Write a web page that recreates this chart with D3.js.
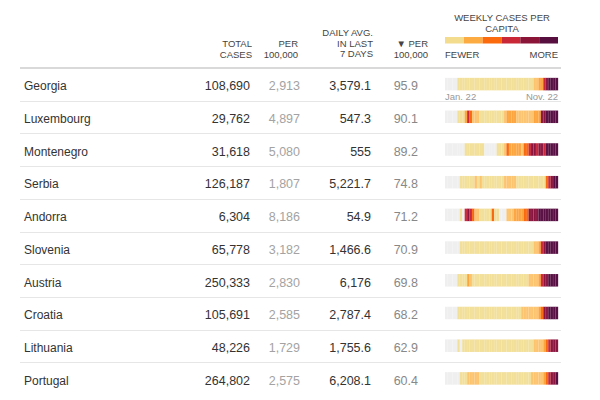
<!DOCTYPE html>
<html><head><meta charset="utf-8">
<script src="https://cdn.jsdelivr.net/npm/d3@7"></script>
<style>
body{margin:0;background:#fff;}
svg{display:block;}
.nm{font-family:"Liberation Sans",Arial,sans-serif;font-size:12px;fill:#333;}
.num{font-family:"Liberation Sans Narrow","Arial Narrow","Liberation Sans",sans-serif;font-size:12.5px;}
.hd{font-family:"Liberation Sans Narrow","Arial Narrow","Liberation Sans",sans-serif;font-size:9.5px;fill:#444;}
.dt{font-family:"Liberation Sans Narrow","Arial Narrow","Liberation Sans",sans-serif;font-size:9.5px;fill:#999;}
</style></head>
<body>
<script>
const countries = ["Georgia","Luxembourg","Montenegro","Serbia","Andorra","Slovenia","Austria","Croatia","Lithuania","Portugal"];
const totalCases = ["108,690","29,762","31,618","126,187","6,304","65,778","250,333","105,691","48,226","264,802"];
const totalPer100k = ["2,913","4,897","5,080","1,807","8,186","3,182","2,830","2,585","1,729","2,575"];
const dailyAvg = ["3,579.1","547.3","555","5,221.7","54.9","1,466.6","6,176","2,787.4","1,755.6","6,208.1"];
const dailyPer100k = ["95.9","90.1","89.2","74.8","71.2","70.9","69.8","68.2","62.9","60.4"];
const dateLabels = ["Jan. 22","Nov. 22"];
const legendLabels = ["FEWER","MORE"];
const legendLevels = [1,3,4,5,6,7];
// weekly level 0=no data/very low, 1..7 = fewer..more
const weeklyGeorgia    = [0,0,0,0,0,1,1,1,1,1,1,1,1,1,1,1,1,1,1,1,1,1,1,1,1,1,1,1,1,1,1,1,1,1,1,1,2,2,3,3,5,6,7,7,7,7];
const weeklyLuxembourg = [0,0,0,0,0,1,1,1,3,5,4,2,2,2,1,1,1,1,1,1,1,1,1,1,2,3,3,3,3,2,2,2,2,2,2,2,3,3,3,6,6,7,7,7,7,7];
const weeklyMontenegro = [0,0,0,0,0,0,0,0,1,1,1,1,1,1,1,1,0,0,0,0,0,1,1,1,2,4,3,3,3,3,3,2,4,4,5,6,6,5,6,6,5,7,7,7,7,7];
const weeklySerbia     = [0,0,0,0,0,0,1,1,1,1,1,1,2,1,2,1,1,1,1,1,1,1,1,1,2,2,2,2,2,1,1,1,1,1,1,1,1,1,1,1,1,4,5,6,7,7];
const weeklyAndorra    = [0,0,0,0,0,0,1,0,5,6,5,4,2,2,1,1,1,1,1,4,1,1,0,0,0,2,2,2,3,3,3,3,4,4,6,6,6,6,7,7,7,7,7,7,7,7];
const weeklySlovenia   = [0,0,0,0,0,0,1,1,1,1,1,1,1,1,1,1,1,1,1,1,1,1,1,1,1,1,1,1,1,1,1,1,1,1,1,1,2,2,3,5,6,7,7,7,7,7];
const weeklyAustria    = [0,0,0,0,0,1,1,1,1,3,2,1,1,1,1,1,1,1,1,1,1,1,1,1,1,1,1,1,1,1,1,1,1,1,2,2,2,2,3,5,6,6,7,7,7,7];
const weeklyCroatia    = [0,0,0,0,0,1,1,1,1,1,1,1,1,1,1,1,1,1,1,1,1,1,1,1,1,1,1,1,1,1,1,2,2,2,2,2,2,2,3,4,6,6,7,7,7,7];
const weeklyLithuania  = [0,0,0,0,0,1,0,1,1,1,1,1,1,1,1,1,1,1,1,1,1,1,1,1,1,1,1,1,1,1,1,1,1,1,1,1,2,2,2,2,3,4,5,6,6,6];
const weeklyPortugal   = [0,0,0,0,0,0,1,1,1,2,2,2,2,2,1,1,1,1,1,1,1,1,1,1,1,1,1,1,1,1,1,1,1,1,1,2,2,2,2,2,3,4,5,6,6,7];
const weekly = [weeklyGeorgia,weeklyLuxembourg,weeklyMontenegro,weeklySerbia,weeklyAndorra,weeklySlovenia,weeklyAustria,weeklyCroatia,weeklyLithuania,weeklyPortugal];

const levelColors = ["#efefef","#f2df98","#fcc46f","#fca53f","#f8680f","#c8283a","#8a1640","#580f43"];
const color = d3.scaleOrdinal().domain(d3.range(8)).range(levelColors);

const W=600,H=400;
const svg = d3.select("body").append("svg").attr("width",W).attr("height",H);

const y = d3.scaleBand().domain(countries).range([68,395]);
const x = d3.scaleBand().domain(d3.range(weeklyGeorgia.length)).range([445,558]);
const lx = d3.scaleBand().domain(legendLevels).range([445,558]);

// header
const hdr = [
  {x:252, lines:["TOTAL","CASES"], y0:47},
  {x:298, lines:["PER","100,000"], y0:47},
  {x:373, lines:["DAILY AVG.","IN LAST","7 DAYS"], y0:36},
  {x:428, lines:["\u25BC PER","100,000"], y0:47}
];
hdr.forEach(h=>{
  h.lines.forEach((t,i)=>{
    svg.append("text").attr("class","hd").attr("x",h.x).attr("y",h.y0+i*10.5)
      .attr("text-anchor","end").text(t);
  });
});
svg.append("text").attr("class","hd").attr("x",502).attr("y",21).attr("text-anchor","middle").text("WEEKLY CASES PER");
svg.append("text").attr("class","hd").attr("x",502).attr("y",32).attr("text-anchor","middle").text("CAPITA");
svg.selectAll("rect.leg").data(legendLevels).enter().append("rect").attr("class","leg")
  .attr("x",d=>lx(d)).attr("y",37).attr("width",lx.bandwidth()).attr("height",6.5)
  .attr("fill",(d,i)=>["#f3dc8e","#fbab41","#fb6a0d","#c92837","#8b1538","#560f3f"][i]);
svg.append("text").attr("class","hd").attr("x",445).attr("y",57.5).text(legendLabels[0]);
svg.append("text").attr("class","hd").attr("x",558).attr("y",57.5).attr("text-anchor","end").text(legendLabels[1]);

// lines
svg.append("line").attr("x1",20).attr("x2",561).attr("y1",68).attr("y2",68).attr("stroke","#ccc").attr("stroke-width",1.5);
svg.selectAll("line.sep").data(countries.slice(1)).enter().append("line").attr("class","sep")
  .attr("x1",20).attr("x2",561).attr("y1",d=>Math.round(y(d))+0.5).attr("y2",d=>Math.round(y(d))+0.5)
  .attr("stroke","#e6e6e6").attr("stroke-width",1);

// rows
const rows = svg.selectAll("g.row").data(countries).enter().append("g").attr("class","row")
  .attr("transform",d=>`translate(0,${y(d)+y.bandwidth()/2})`);
rows.append("text").attr("class","nm").attr("x",24).attr("y",6).text(d=>d);
rows.append("text").attr("class","num").attr("x",250).attr("y",6).attr("text-anchor","end").attr("fill","#333").text((d,i)=>totalCases[i]);
rows.append("text").attr("class","num").attr("x",300).attr("y",6).attr("text-anchor","end").attr("fill","#a3a3a3").text((d,i)=>totalPer100k[i]);
rows.append("text").attr("class","num").attr("x",371).attr("y",6).attr("text-anchor","end").attr("fill","#333").text((d,i)=>dailyAvg[i]);
rows.append("text").attr("class","num").attr("x",418).attr("y",6).attr("text-anchor","end").attr("fill","#888").text((d,i)=>dailyPer100k[i]);

rows.each(function(c,ri){
  d3.select(this).selectAll("rect").data(weekly[ri]).enter().append("rect")
    .attr("x",(d,i)=>x(i)).attr("y",-6.5).attr("width",x.bandwidth()+0.15).attr("height",12.5)
    .attr("fill",d=>color(d));
  d3.select(this).selectAll("line.tk").data(weekly[ri]).enter().append("line").attr("class","tk")
    .attr("x1",(d,i)=>x(i)).attr("x2",(d,i)=>x(i)).attr("y1",-6.5).attr("y2",6)
    .attr("stroke","#fff").attr("stroke-opacity",0.18).attr("stroke-width",0.5);
});

// date labels under first strip
const g0 = y(countries[0])+y.bandwidth()/2;
svg.append("text").attr("class","dt").attr("x",445).attr("y",g0+16).text(dateLabels[0]);
svg.append("text").attr("class","dt").attr("x",558).attr("y",g0+16).attr("text-anchor","end").text(dateLabels[1]);
</script>
</body></html>
